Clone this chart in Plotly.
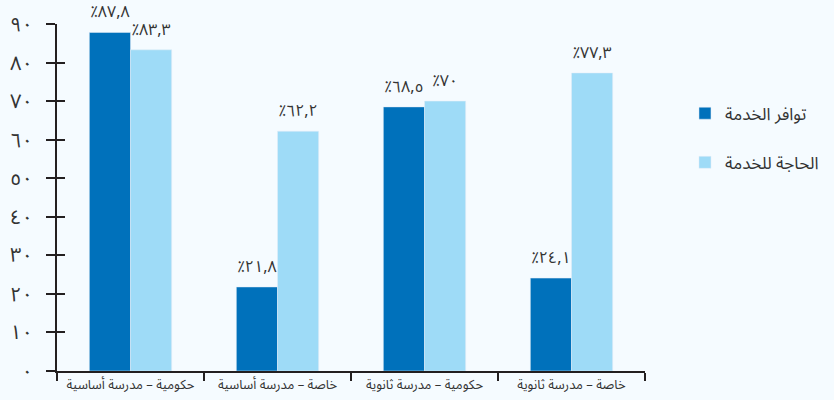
import plotly.graph_objects as go

categories = ["حكومية – مدرسة أساسية", "خاصة – مدرسة أساسية", "حكومية – مدرسة ثانوية", "خاصة – مدرسة ثانوية"]
availability = [87.8, 21.8, 68.5, 24.1]
need = [83.3, 62.2, 70.0, 77.3]
availability_labels = ["٪٨٧,٨", "٪٢١,٨", "٪٦٨,٥", "٪٢٤,١"]
need_labels = ["٪٨٣,٣", "٪٦٢,٢", "٪٧٠", "٪٧٧,٣"]
series_names = ["توافر الخدمة", "الحاجة للخدمة"]
y_tickvals = [0, 10, 20, 30, 40, 50, 60, 70, 80, 90]
y_ticktext = ["٠", "١٠", "٢٠", "٣٠", "٤٠", "٥٠", "٦٠", "٧٠", "٨٠", "٩٠"]

FONT = "Noto Sans Arabic, DejaVu Sans, sans-serif"
DARK = "#0071BB"
LIGHT = "#9EDBF7"
INK = "#231F20"
TXT = "#333333"

fig = go.Figure()
fig.add_trace(go.Bar(x=categories, y=availability, name=series_names[0], marker_color=DARK,
                     text=availability_labels, textposition="outside", cliponaxis=False,
                     textfont=dict(size=16, color=TXT, family=FONT), legendgroup="a"))
fig.add_trace(go.Bar(x=categories, y=need, name=series_names[1], marker_color=LIGHT,
                     text=need_labels, textposition="outside", cliponaxis=False,
                     textfont=dict(size=16, color=TXT, family=FONT), legendgroup="b"))
# invisible trace for inside ticks overlay axis
fig.add_trace(go.Scatter(x=[categories[0]], y=[0], yaxis="y2", mode="markers",
                         marker=dict(opacity=0), showlegend=False, hoverinfo="skip"))

fig.update_layout(
    width=834, height=400,
    margin=dict(l=57, r=189, t=24, b=29, autoexpand=False),
    paper_bgcolor="#F5FBFF", plot_bgcolor="#F5FBFF",
    barmode="group", bargap=0.44, bargroupgap=0,
    font=dict(family=FONT, color=TXT),
    xaxis=dict(type="category", tickson="boundaries", ticks="outside", ticklen=8, tickwidth=2,
               tickcolor=INK, showline=True, linecolor=INK, linewidth=2, showgrid=False,
               tickfont=dict(size=13, color=TXT, family=FONT), range=[-0.5, 3.5], automargin=False),
    yaxis=dict(range=[0, 90], tickvals=y_tickvals, ticktext=y_ticktext, ticks="outside",
               ticklen=9, tickwidth=2, tickcolor=INK, showline=True, linecolor=INK, linewidth=2,
               showgrid=False, zeroline=False, tickfont=dict(size=20, color=TXT, family=FONT),
               ticklabelstandoff=9, automargin=False, ticklabeloverflow="allow"),
    yaxis2=dict(range=[0, 90], tickvals=y_tickvals, overlaying="y", side="left", anchor="x",
                ticks="inside", ticklen=8, tickwidth=2, tickcolor=INK, showticklabels=False,
                showline=False, showgrid=False, zeroline=False, automargin=False),
    legend=dict(x=1.068, xanchor="left", y=0.671, yanchor="middle", tracegroupgap=24,
                font=dict(size=17, color=TXT, family=FONT), bgcolor="rgba(0,0,0,0)"),
    showlegend=True,
)

fig.write_html("out.html", config={"displayModeBar": False},
               post_script="document.body.style.margin='0';")
